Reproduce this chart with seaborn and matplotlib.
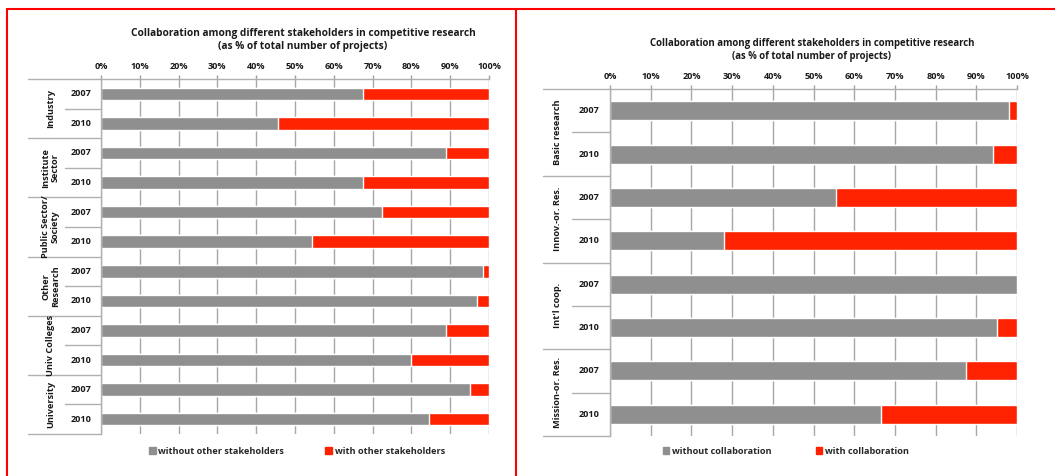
import matplotlib
matplotlib.use('Agg')
import matplotlib.pyplot as plt
from matplotlib.lines import Line2D
from matplotlib.patches import Patch
import matplotlib.transforms as mtransforms
import pandas as pd
import seaborn as sns

# Left chart: share of projects without other stakeholders (%)
left_groups = ['Industry', 'Institute\nSector', 'Public Sector/\nSociety',
               'Other\nResearch', 'Univ Colleges', 'University']
left_without = [67.5, 45.5, 89, 67.5, 72.5, 54.5, 98.5, 97, 89, 80, 95, 84.5]

# Right chart: share of projects without collaboration (%)
right_groups = ['Basic research', 'Innov.-or. Res.', "Int'l coop.", 'Mission-or. Res.']
right_without = [98, 94, 55.5, 28, 100, 95, 87.5, 66.5]

years = ['2007', '2010']
pct_ticks = list(range(0, 101, 10))

title = 'Collaboration among different stakeholders in competitive research\n(as % of total number of projects)'

GREY = '#8f8f8f'
RED = '#ff2200'
TXT = '#1a1a1a'
FS = 6.6

sns.set_style('white')
plt.rcParams['font.family'] = ['Open Sans', 'DejaVu Sans']
plt.rcParams['font.weight'] = 'bold'

fig = plt.figure(figsize=(10.55, 4.76), dpi=100)
W, H = 1055, 476


def draw_panel(rect, groups, without, bar_w, group_x, sep_x, title_xy, title_fs, legend_labels, legend_pos, colsp):
    ax = fig.add_axes(rect)
    rows = [f'{g}|{y}' for g in groups for y in years]
    df = pd.DataFrame({'row': rows, 'without': without, 'total': [100] * len(rows)})

    # stacked look: full red bar first, grey share on top
    sns.barplot(data=df, x='total', y='row', order=rows, color=RED, width=bar_w,
                orient='h', saturation=1, ax=ax)
    sns.barplot(data=df, x='without', y='row', order=rows, color=GREY, width=bar_w,
                orient='h', saturation=1, ax=ax)

    n = len(rows)
    ax.set_xlim(0, 100)
    ax.set_ylim(n - 0.5, -0.5)
    ax.xaxis.tick_top()
    ax.set_xticks(pct_ticks)
    ax.set_xticklabels([f'{t}%' for t in pct_ticks], fontsize=FS, fontweight='bold', color=TXT)
    ax.tick_params(axis='x', length=3, width=1, color='#a0a0a0', pad=3)
    ax.set_yticks([])
    ax.set_xlabel('')
    ax.set_ylabel('')
    ax.grid(axis='x', color='#a8a8a8', lw=1)
    ax.set_axisbelow(True)
    for s in ['right', 'bottom']:
        ax.spines[s].set_visible(False)
    for s in ['top', 'left']:
        ax.spines[s].set_color('#b0b0b0')
        ax.spines[s].set_linewidth(1)

    tr = mtransforms.blended_transform_factory(ax.transAxes, ax.transData)
    # group separators and labels on the category side
    for gi, g in enumerate(groups):
        top = gi * 2 - 0.5
        ax.add_line(Line2D([sep_x[0], 0], [top, top], transform=tr, color='#b0b0b0', lw=1, clip_on=False))
        ax.add_line(Line2D([sep_x[1], 0], [top + 1, top + 1], transform=tr, color='#b0b0b0', lw=1, clip_on=False))
        ax.text(group_x, gi * 2 + 0.5, g, transform=tr, rotation=90, ha='center', va='center',
                fontsize=FS, fontweight='bold', color=TXT, linespacing=1.1)
        for yi, y in enumerate(years):
            ax.text(-0.025, gi * 2 + yi, y, transform=tr, ha='right', va='center',
                    fontsize=FS, fontweight='bold', color=TXT)
    ax.add_line(Line2D([sep_x[0], 0], [n - 0.5, n - 0.5], transform=tr, color='#b0b0b0', lw=1, clip_on=False))

    fig.text(title_xy[0], title_xy[1], title, ha='center', va='center', fontsize=title_fs,
             fontweight='bold', color=TXT, linespacing=1.3)

    handles = [Patch(color=GREY, label=legend_labels[0]), Patch(color=RED, label=legend_labels[1])]
    fig.legend(handles=handles, loc='center', bbox_to_anchor=legend_pos, ncol=2, frameon=False,
               handlelength=0.7, handleheight=0.7, handletextpad=0.3,
               columnspacing=colsp, prop={'weight': 'bold', 'size': FS})
    return ax


draw_panel([101 / W, 1 - 434 / H, 388 / W, 355 / H], left_groups, left_without, 0.42,
           -0.13, (-0.188, -0.093), (303 / W, 1 - 40 / H), 7.3,
           ['without other stakeholders', 'with other stakeholders'], (297 / W, 1 - 451 / H), 4.5)

draw_panel([610 / W, 1 - 436 / H, 407 / W, 347 / H], right_groups, right_without, 0.44,
           -0.13, (-0.165, -0.093), (812 / W, 1 - 50 / H), 6.9,
           ['without collaboration', 'with collaboration'], (786 / W, 1 - 451 / H), 4.8)

# red frame lines around the panels
fig.add_artist(Line2D([7 / W, 1], [1 - 9 / H, 1 - 9 / H], color='#ff0000', lw=1.5))
fig.add_artist(Line2D([7 / W, 7 / W], [0, 1 - 9 / H], color='#ff0000', lw=1.5))
fig.add_artist(Line2D([516 / W, 516 / W], [0, 1 - 9 / H], color='#ff0000', lw=1.5))

fig.savefig('out.png', dpi=100)
